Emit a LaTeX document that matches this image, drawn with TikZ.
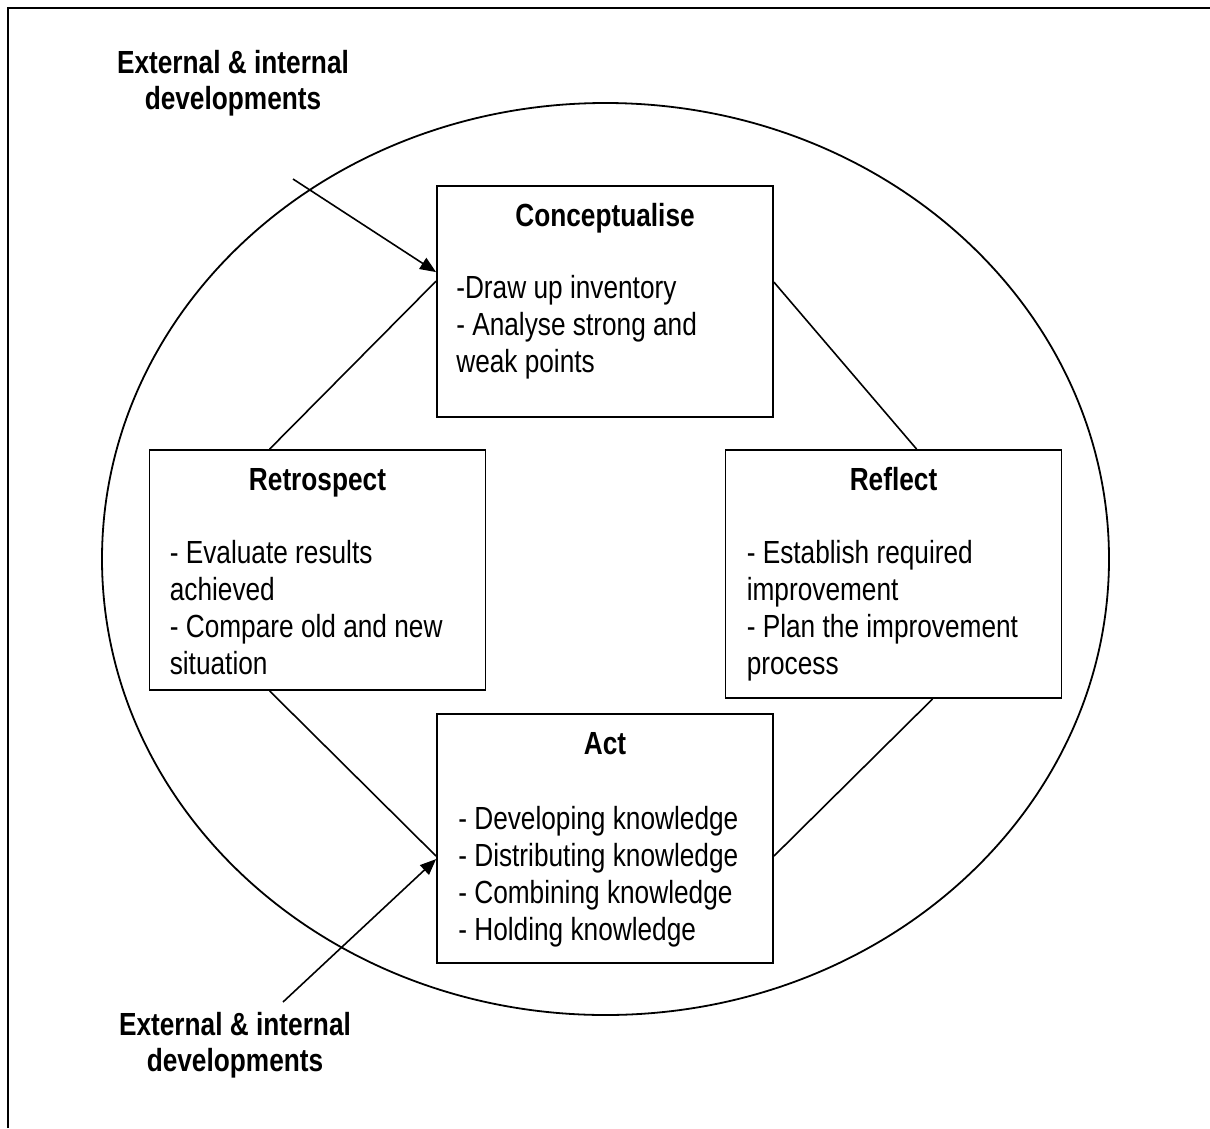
\documentclass[tikz,border=0pt]{standalone}
\usepackage{fontspec}
\setmainfont{Liberation Sans}[FakeStretch=0.82]
\usetikzlibrary{arrows.meta}

\tikzset{
  stage/.style={draw, line width=1.8pt, rectangle, inner sep=0pt,
                minimum width=336pt},
  stagetitle/.style={font=\fontsize{32}{37}\selectfont\bfseries, inner sep=0pt, anchor=base},
  % multi-line text: the base anchor sits on the last line
  stagebody/.style={font=\fontsize{32}{37}\selectfont, align=left, inner sep=0pt, anchor=base west},
  extlabel/.style={font=\fontsize{32}{36}\selectfont\bfseries, align=center, inner sep=0pt, anchor=base},
  link/.style={line width=1.6pt},
  inflow/.style={line width=1.6pt, -{Triangle[length=16pt,width=13pt]}},
}

\begin{document}
\begin{tikzpicture}[x=1pt, y=-1pt]
  \useasboundingbox (0,0) rectangle (1210,1128);

  % frame (top and left edges)
  \draw[line width=2pt] (8,1128) -- (8,8) -- (1210,8);

  % surrounding cycle
  \draw[line width=1.8pt] (605.5,559) ellipse [x radius=503.5pt, y radius=456pt];

  % the four stages
  \node[stage, minimum height=231pt] (con) at (605,301.5) {};
  \node[stage, minimum height=240pt] (ret) at (317.5,570) {};
  \node[stage, minimum height=248pt] (ref) at (893.5,574) {};
  \node[stage, minimum height=249pt] (act) at (605,838.5) {};

  \node[stagetitle] (con-t) at ([yshift=-41pt]con.north) {Conceptualise};
  \node[stagebody]  (con-b) at ([xshift=20pt,yshift=-187pt]con.north west)
    {-Draw up inventory\\- Analyse strong and\\weak points};

  \node[stagetitle] (ret-t) at ([yshift=-41pt]ret.north) {Retrospect};
  \node[stagebody]  (ret-b) at ([xshift=21pt,yshift=-225pt]ret.north west)
    {- Evaluate results\\achieved\\- Compare old and new\\situation};

  \node[stagetitle] (ref-t) at ([yshift=-41pt]ref.north) {Reflect};
  \node[stagebody]  (ref-b) at ([xshift=22pt,yshift=-225pt]ref.north west)
    {- Establish required\\improvement\\- Plan the improvement\\process};

  \node[stagetitle] (act-t) at ([yshift=-41pt]act.north) {Act};
  \node[stagebody]  (act-b) at ([xshift=22pt,yshift=-227pt]act.north west)
    {- Developing knowledge\\- Distributing knowledge\\- Combining knowledge\\- Holding knowledge};

  % links between the stages
  \draw[link] ([yshift=-96pt]con.north west) -- ([xshift=121pt]ret.north west);
  \draw[link] ([yshift=-97pt]con.north east) -- ([xshift=192pt]ref.north west);
  \draw[link] ([xshift=121pt]ret.south west) -- ([yshift=-143pt]act.north west);
  \draw[link] ([xshift=208pt]ref.south west) -- ([yshift=-143pt]act.north east);

  % outside influences
  \node[extlabel] (ext-top) at (233,109) {External \& internal\\developments};
  \node[extlabel] (ext-bot) at (235,1071) {External \& internal\\developments};

  \coordinate (in-top) at (293,179);
  \coordinate (in-bot) at (283,1002);
  \draw[inflow] (in-top) -- ([yshift=-87pt]con.north west);
  \draw[inflow] (in-bot) -- ([yshift=-146pt]act.north west);
\end{tikzpicture}
\end{document}
